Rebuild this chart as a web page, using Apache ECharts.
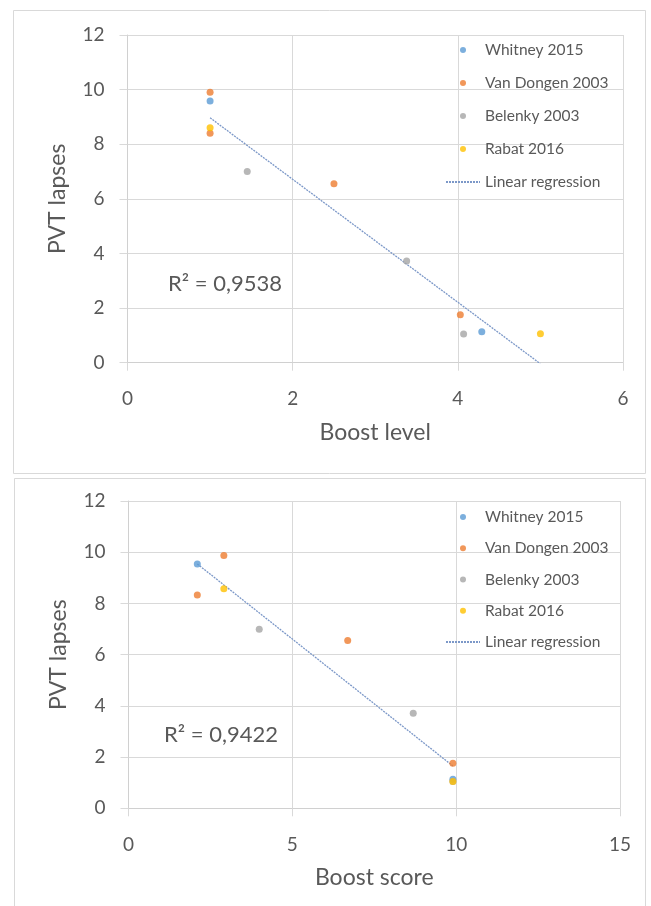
<!DOCTYPE html>
<html>
<head>
<meta charset="utf-8">
<script src="https://cdn.jsdelivr.net/npm/echarts@6/dist/echarts.min.js"></script>
<style>
  html, body { margin: 0; padding: 0; background: #ffffff; }
  #chart { width: 651px; height: 906px; }
</style>
</head>
<body>
<div id="chart"></div>
<script>
// ---- data ----
const seriesNames = ['Whitney 2015', 'Van Dongen 2003', 'Belenky 2003', 'Rabat 2016'];
const trendName = 'Linear regression';

// Top chart: Boost level vs PVT lapses
const levelWhitney   = [[1, 9.58], [4.29, 1.13]];
const levelVanDongen = [[1, 9.9], [1, 8.4], [2.5, 6.55], [4.03, 1.76]];
const levelBelenky   = [[1.45, 7.0], [3.38, 3.72], [4.07, 1.05]];
const levelRabat     = [[1, 8.6], [5.0, 1.06]];

// Bottom chart: Boost score vs PVT lapses
const scoreWhitney   = [[2.1, 9.54], [9.9, 1.13]];
const scoreVanDongen = [[2.91, 9.87], [2.1, 8.33], [6.69, 6.55], [9.9, 1.76]];
const scoreBelenky   = [[3.99, 6.99], [8.69, 3.71], [9.9, 1.05]];
const scoreRabat     = [[2.91, 8.57], [9.9, 1.05]];

const levelTicks = { min: 0, max: 6, interval: 2 };
const scoreTicks = { min: 0, max: 15, interval: 5 };
const lapseTicks = { min: 0, max: 12, interval: 2 };

const r2Labels = ['R\u00B2 = 0,9538', 'R\u00B2 = 0,9422'];

// ---- helpers ----
function linearFit(groups) {
  const pts = [].concat(...groups);
  const n = pts.length;
  let sx = 0, sy = 0;
  pts.forEach(p => { sx += p[0]; sy += p[1]; });
  const mx = sx / n, my = sy / n;
  let sxy = 0, sxx = 0;
  pts.forEach(p => { sxy += (p[0] - mx) * (p[1] - my); sxx += (p[0] - mx) * (p[0] - mx); });
  const slope = sxy / sxx, icpt = my - slope * mx;
  const xs = pts.map(p => p[0]);
  const x0 = Math.min(...xs), x1 = Math.max(...xs);
  return [[x0, icpt + slope * x0], [x1, icpt + slope * x1]];
}

const colors = ['#5B9BD5', '#ED7D31', '#A5A5A5', '#FFC000'];
const trendColor = '#7C98C8';
const txt = '#595959';
const font = 'Lato, Carlito, Calibri, sans-serif';
const gridColor = '#D9D9D9';

function makeXAxis(gridIndex, ticks, name) {
  return {
    type: 'value', gridIndex, min: ticks.min, max: ticks.max, interval: ticks.interval,
    name, nameLocation: 'middle', nameGap: 58,
    nameTextStyle: { color: txt, fontFamily: font, fontSize: 23 },
    axisLine: { show: true, onZero: false, lineStyle: { color: '#D0D0D0', width: 1 } },
    axisTick: { show: true, length: 8, lineStyle: { color: gridColor } },
    axisLabel: { color: txt, fontFamily: font, fontSize: 19, margin: 27 },
    splitLine: { show: true, lineStyle: { color: gridColor, width: 1 } }
  };
}
function makeYAxis(gridIndex, ticks, name) {
  return {
    type: 'value', gridIndex, min: ticks.min, max: ticks.max, interval: ticks.interval,
    name, nameLocation: 'middle', nameGap: 58,
    nameTextStyle: { color: txt, fontFamily: font, fontSize: 23 },
    axisLine: { show: true, onZero: false, lineStyle: { color: '#D0D0D0', width: 1 } },
    axisTick: { show: true, length: 8, lineStyle: { color: gridColor } },
    axisLabel: { color: txt, fontFamily: font, fontSize: 19, margin: 23 },
    splitLine: { show: true, lineStyle: { color: gridColor, width: 1 } }
  };
}

function scatterSeries(name, data, idx, colorIdx) {
  return {
    name, type: 'scatter', data, xAxisIndex: idx, yAxisIndex: idx,
    symbol: 'circle', symbolSize: 7,
    itemStyle: { color: colors[colorIdx] },
    emphasis: { disabled: true }, silent: true
  };
}
function trendSeries(data, idx) {
  return {
    name: trendName, type: 'line', data, xAxisIndex: idx, yAxisIndex: idx,
    symbol: 'none', showSymbol: false,
    lineStyle: { color: trendColor, width: 1.3, type: [2, 1] },
    itemStyle: { color: trendColor },
    emphasis: { disabled: true }, silent: true, z: 1
  };
}

const levelGroups = [levelWhitney, levelVanDongen, levelBelenky, levelRabat];
const scoreGroups = [scoreWhitney, scoreVanDongen, scoreBelenky, scoreRabat];

const series = [];
series.push(trendSeries(linearFit(levelGroups), 0));
levelGroups.forEach((g, i) => series.push(scatterSeries(seriesNames[i], g, 0, i)));
series.push(trendSeries(linearFit(scoreGroups), 1));
scoreGroups.forEach((g, i) => series.push(scatterSeries(seriesNames[i], g, 1, i)));

const legendData = seriesNames.map((n, i) => ({ name: n, icon: 'circle', itemStyle: { color: colors[i] } }))
  .concat([{ name: trendName, itemStyle: { opacity: 0 } }]);

function makeLegend(top, gap) {
  return {
    data: legendData, orient: 'vertical', left: 440, top, itemGap: gap,
    itemWidth: 34, itemHeight: 6, selectedMode: false,
    textStyle: { color: txt, fontFamily: font, fontSize: 15.5, lineHeight: 18 }
  };
}

const chart = echarts.init(document.getElementById('chart'), null, { renderer: 'canvas' });
chart.setOption({
  backgroundColor: '#ffffff',
  animation: false,
  textStyle: { fontFamily: font },
  graphic: [
    { type: 'rect', z: -10, shape: { x: 13.5, y: 10.5, width: 632, height: 463 },
      style: { fill: '#ffffff', stroke: gridColor, lineWidth: 1 } },
    { type: 'rect', z: -10, shape: { x: 14.5, y: 478.5, width: 631, height: 440 },
      style: { fill: '#ffffff', stroke: gridColor, lineWidth: 1 } },
    { type: 'text', x: 168, y: 284,
      style: { text: r2Labels[0], fill: txt, font: '22px ' + font, verticalAlign: 'middle' } },
    { type: 'text', x: 164, y: 735,
      style: { text: r2Labels[1], fill: txt, font: '22px ' + font, verticalAlign: 'middle' } }
  ],
  grid: [
    { left: 127.5, top: 35, width: 495.5, height: 327.7 },
    { left: 128.5, top: 501, width: 491.5, height: 307.3 }
  ],
  xAxis: [makeXAxis(0, levelTicks, 'Boost level'), makeXAxis(1, scoreTicks, 'Boost score')],
  yAxis: [makeYAxis(0, lapseTicks, 'PVT lapses'), makeYAxis(1, lapseTicks, 'PVT lapses')],
  legend: [makeLegend(36, 15), makeLegend(503, 13.25)],
  series
});
</script>
</body>
</html>
